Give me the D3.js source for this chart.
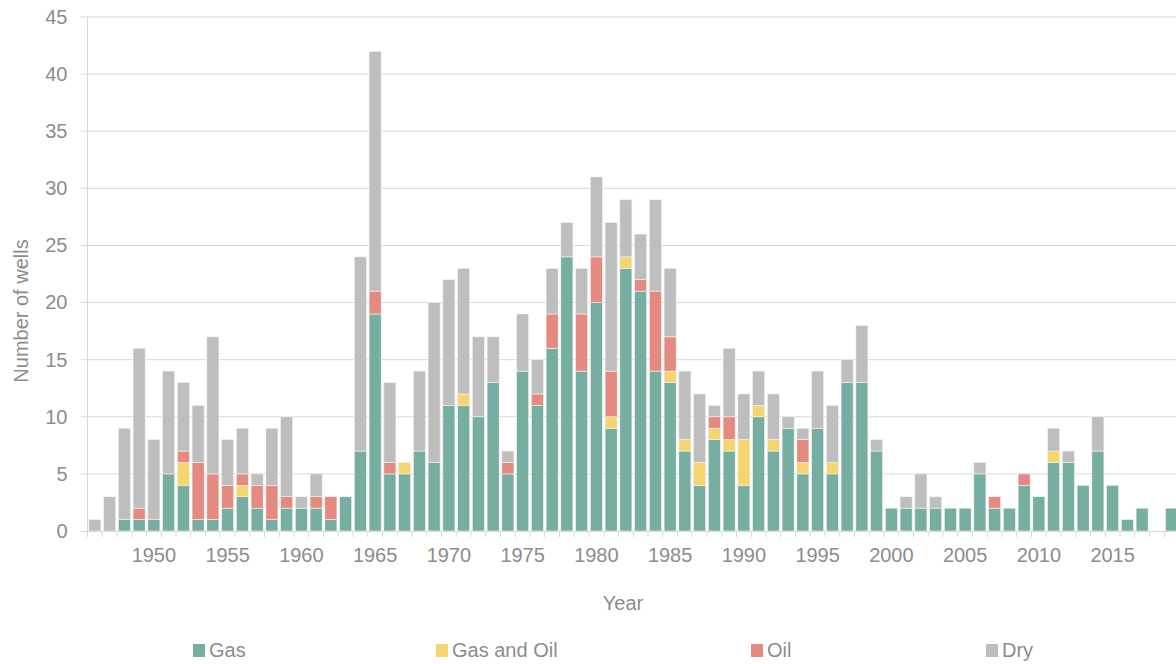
<!DOCTYPE html>
<html>
<head>
<meta charset="utf-8">
<script src="https://cdn.jsdelivr.net/npm/d3@7"></script>
<style>
  body { margin: 0; background: #fff; }
  svg { display: block; font-family: "Liberation Sans", Arial, sans-serif; }
  .grid line { stroke: #d9d9d9; stroke-width: 1; }
  .tick text { fill: #8c8c8c; font-size: 20px; }
  .label { fill: #8c8c8c; font-size: 20px; }
</style>
</head>
<body>
<svg width="1176" height="664"></svg>
<script>
const years = d3.range(1946, 2020);
const gas = [0,0,1,1,1,5,4,1,1,2,3,2,1,2,2,2,1,3,7,19,5,5,7,6,11,11,10,13,5,14,
  11,16,24,14,20,9,23,21,14,13,7,4,8,7,4,10,7,9,5,9,5,13,13,7,2,2,2,2,2,2,
  5,2,2,4,3,6,6,4,7,4,1,2,0,2];
const gasOil = [0,0,0,0,0,0,2,0,0,0,1,0,0,0,0,0,0,0,0,0,0,1,0,0,0,1,0,0,0,0,
  0,0,0,0,0,1,1,0,0,1,1,2,1,1,4,1,1,0,1,0,1,0,0,0,0,0,0,0,0,0,
  0,0,0,0,0,1,0,0,0,0,0,0,0,0];
const oil = [0,0,0,1,0,0,1,5,4,2,1,2,3,1,0,1,2,0,0,2,1,0,0,0,0,0,0,0,1,0,
  1,3,0,5,4,4,0,1,7,3,0,0,1,2,0,0,0,0,2,0,0,0,0,0,0,0,0,0,0,0,
  0,1,0,1,0,0,0,0,0,0,0,0,0,0];
const dry = [1,3,8,14,7,9,6,5,12,4,4,1,5,7,1,2,0,0,17,21,7,0,7,14,11,11,7,4,1,5,
  3,4,3,4,7,13,5,4,8,6,6,6,1,6,4,3,4,1,1,5,5,2,5,1,0,1,3,1,0,0,
  1,0,0,0,0,2,1,0,3,0,0,0,0,0];
const seriesNames = ["Gas", "Gas and Oil", "Oil", "Dry"];
const colors = ["#76afa2", "#f5d56d", "#e58a80", "#bebebe"];
const yTicks = d3.range(0, 50, 5);
const xLabels = d3.range(1950, 2020, 5);

const rows = years.map((y, i) => ({year: y, "Gas": gas[i], "Gas and Oil": gasOil[i], "Oil": oil[i], "Dry": dry[i]}));

const svg = d3.select("svg");
const left = 87.5, step = 14.75;
const x = d3.scaleBand()
    .domain(years)
    .range([left, left + years.length * step])
    .paddingInner(0.18)
    .paddingOuter(0.09);
const y = d3.scaleLinear().domain([0, 45]).range([531, 17]);

// gridlines (with short outward ticks on the left)
svg.append("g").attr("class", "grid")
  .selectAll("line").data(yTicks.slice(1)).enter().append("line")
    .attr("x1", left - 7).attr("x2", 1176)
    .attr("y1", d => y(d)).attr("y2", d => y(d));

// y axis labels
const yAxis = svg.append("g").attr("transform", `translate(${left},0)`)
  .call(d3.axisLeft(y).tickValues(yTicks).tickSize(0).tickPadding(20));
yAxis.select(".domain").remove();
yAxis.append("line").attr("x1", 0).attr("x2", 0).attr("y1", y(45)).attr("y2", 537)
  .attr("stroke", "#d9d9d9");

// stacked bars
const stack = d3.stack().keys(seriesNames)(rows);
svg.append("g").selectAll("g").data(stack).enter().append("g")
    .attr("fill", (d, i) => colors[i])
  .selectAll("rect").data(d => d.filter(p => p[1] > p[0])).enter().append("rect")
    .attr("x", d => x(d.data.year))
    .attr("width", x.bandwidth())
    .attr("y", d => y(d[1]))
    .attr("height", d => y(d[0]) - y(d[1]))
    .attr("stroke", "#f4f4f4")
    .attr("stroke-width", 0.6);

// x axis line and tick marks at band boundaries
const xg = svg.append("g");
xg.append("line").attr("x1", left - 7).attr("x2", 1176).attr("y1", 531.5).attr("y2", 531.5)
  .attr("stroke", "#d9d9d9");
xg.selectAll("line.tk").data(years).enter().append("line").attr("class", "tk")
  .attr("x1", d => x(d) - x.step() * x.paddingInner() / 2)
  .attr("x2", d => x(d) - x.step() * x.paddingInner() / 2)
  .attr("y1", 531).attr("y2", 537).attr("stroke", "#d9d9d9");

const xAxis = svg.append("g").attr("transform", "translate(0,531)")
  .call(d3.axisBottom(x).tickValues(xLabels).tickSize(0).tickPadding(17));
xAxis.select(".domain").remove();

// axis titles
svg.append("text").attr("class", "label")
  .attr("x", 623).attr("y", 610).attr("text-anchor", "middle").text("Year");
svg.append("text").attr("class", "label")
  .attr("transform", "translate(28,311) rotate(-90)")
  .attr("text-anchor", "middle").text("Number of wells");

// legend
const legendX = [193, 436, 751, 986];
const lg = svg.append("g").selectAll("g").data(seriesNames).enter().append("g")
  .attr("transform", (d, i) => `translate(${legendX[i]},643)`);
lg.append("rect").attr("width", 12).attr("height", 13).attr("y", 1)
  .attr("fill", (d, i) => colors[i]);
lg.append("text").attr("class", "label").attr("x", 16).attr("y", 14).text(d => d);
</script>
</body>
</html>
